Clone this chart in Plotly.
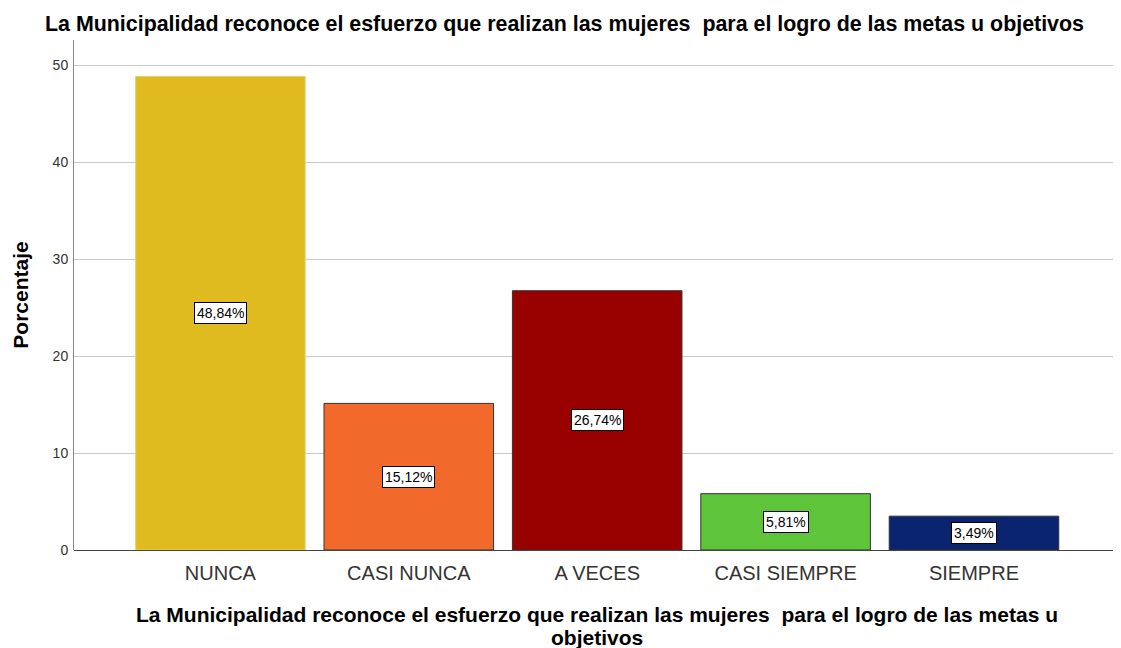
import plotly.graph_objects as go

categorias = ["NUNCA", "CASI NUNCA", "A VECES", "CASI SIEMPRE", "SIEMPRE"]
porcentajes = [48.84, 15.12, 26.74, 5.81, 3.49]
colores = ["#E0BB20", "#F26A2B", "#990000", "#5EC43A", "#0B2470"]
bordes = ["#E8D070", "#333333", "#333333", "#333333", "#333333"]
etiquetas = ["48,84%", "15,12%", "26,74%", "5,81%", "3,49%"]
titulo = "La Municipalidad reconoce el esfuerzo que realizan las mujeres  para el logro de las metas u objetivos"
titulo_x = ["La Municipalidad reconoce el esfuerzo que realizan las mujeres  para el logro de las metas u",
            "objetivos"]

fuente = "Arial, Liberation Sans"

fig = go.Figure()
fig.add_trace(go.Bar(
    x=categorias, y=porcentajes, width=0.9,
    marker=dict(color=colores, line=dict(color=bordes, width=1)),
    hoverinfo="skip",
))

# etiquetas en caja blanca al centro de cada barra
for cat, val, txt in zip(categorias, porcentajes, etiquetas):
    fig.add_annotation(x=cat, y=val / 2, text=txt, showarrow=False,
                       font=dict(family=fuente, size=14, color="black"),
                       bgcolor="white", bordercolor="black", borderwidth=1, borderpad=2)

# titulo del eje x en dos lineas
for i, linea in enumerate(titulo_x):
    fig.add_annotation(x=0.5, y=0, xref="paper", yref="paper", text="<b>" + linea + "</b>",
                       showarrow=False, xanchor="center", yanchor="middle", yshift=-64 - 23 * i,
                       font=dict(family=fuente, size=21, color="black"))

# el body de la pagina agrega 8px de margen
fig.update_layout(
    width=1113, height=640,
    plot_bgcolor="white", paper_bgcolor="white",
    margin=dict(l=66, r=1, t=32, b=98, autoexpand=False),
    showlegend=False,
    title=dict(text="<b>" + titulo + "</b>", x=0.5, xanchor="center", y=0.976, yanchor="middle",
               font=dict(family=fuente, size=21.4, color="black")),
    font=dict(family=fuente, color="#222"),
)
fig.update_xaxes(
    range=[-0.777, 4.775], showgrid=False, showline=False, ticks="",
    ticklabelstandoff=9, tickfont=dict(size=20, color="#333"),
)
fig.update_yaxes(
    range=[0, 52.6], tickvals=[0, 10, 20, 30, 40, 50],
    showgrid=True, gridcolor="#C8C8C8", gridwidth=1,
    showline=True, linecolor="#888", linewidth=1,
    zeroline=True, zerolinecolor="#444", zerolinewidth=1,
    ticks="", ticklabelstandoff=2, tickfont=dict(size=14, color="#333"),
    title=dict(text="<b>Porcentaje</b>", font=dict(size=21, color="black"), standoff=18),
)

fig.write_html("out.html")
